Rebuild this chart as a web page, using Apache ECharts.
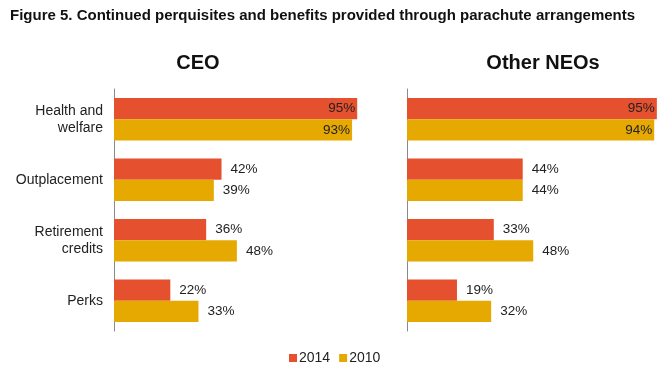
<!DOCTYPE html>
<html><head><meta charset="utf-8">
<script src="https://cdn.jsdelivr.net/npm/echarts@6/dist/echarts.min.js"></script>
<style>html,body{margin:0;padding:0;background:#fff}#c{width:672px;height:368px}</style>
</head><body><div id="c"></div>
<script>
const categories = ['Health and\nwelfare', 'Outplacement', 'Retirement\ncredits', 'Perks'];
const ceo2014 = [95, 42, 36, 22];
const ceo2010 = [93, 39, 48, 33];
const neo2014 = [95, 44, 33, 19];
const neo2010 = [94, 44, 48, 32];
const seriesNames = ['2014', '2010'];
const panelTitles = ['CEO', 'Other NEOs'];

const RED = '#E5502E', YEL = '#E6A902';
const font = 'Arial, "Liberation Sans", sans-serif';
function lbl(v) {
  return {
    value: v,
    label: v >= 80 ? {position: 'insideRight', distance: 2} : {position: 'right', distance: 9}
  };
}
function mk(name, data, color, idx) {
  return {
    type: 'bar', name: name, xAxisIndex: idx, yAxisIndex: idx,
    data: data.map(lbl), barGap: '0%', barCategoryGap: '30%',
    itemStyle: {color: color},
    label: {show: true, formatter: '{c}%', color: '#222', fontSize: 13.5, fontFamily: font},
    silent: true
  };
}
const chart = echarts.init(document.getElementById('c'), null, {renderer: 'canvas'});
const yAx = (g) => ({
  type: 'category', gridIndex: g, data: categories, inverse: true,
  axisLine: {show: true, lineStyle: {color: '#8a8a8a', width: 1}},
  axisTick: {show: false},
  axisLabel: {show: g === 0, color: '#222', fontSize: 14, fontFamily: font, margin: 11, lineHeight: 17, align: 'right'}
});
const xAx = (g) => ({
  type: 'value', gridIndex: g, min: 0, max: 100, show: false, splitLine: {show: false}
});
chart.setOption({
  animation: false,
  title: [
    {text: 'Figure 5. Continued perquisites and benefits provided through parachute arrangements', left: 5, top: 3,
      textStyle: {fontSize: 15, fontWeight: 'bold', color: '#111', fontFamily: '"Liberation Sans Narrow", "Arial Narrow", Arial, sans-serif'}},
    {text: panelTitles[0], left: 193, top: 48, textAlign: 'center',
      textStyle: {fontSize: 20, fontWeight: 'bold', color: '#111', fontFamily: font}},
    {text: panelTitles[1], left: 538, top: 48, textAlign: 'center',
      textStyle: {fontSize: 20, fontWeight: 'bold', color: '#111', fontFamily: font}}
  ],
  legend: {
    top: 346, left: 284, itemWidth: 8, itemHeight: 8, itemGap: 9,
    icon: 'rect', textStyle: {fontSize: 14, color: '#222', fontFamily: font, padding: [0, 0, 0, -3]},
    data: seriesNames
  },
  grid: [
    {left: 114, top: 89, width: 256, height: 242},
    {left: 407, top: 89, width: 263, height: 242}
  ],
  xAxis: [xAx(0), xAx(1)],
  yAxis: [yAx(0), yAx(1)],
  series: [
    mk(seriesNames[0], ceo2014, RED, 0),
    mk(seriesNames[1], ceo2010, YEL, 0),
    mk(seriesNames[0], neo2014, RED, 1),
    mk(seriesNames[1], neo2010, YEL, 1)
  ]
});
</script></body></html>
